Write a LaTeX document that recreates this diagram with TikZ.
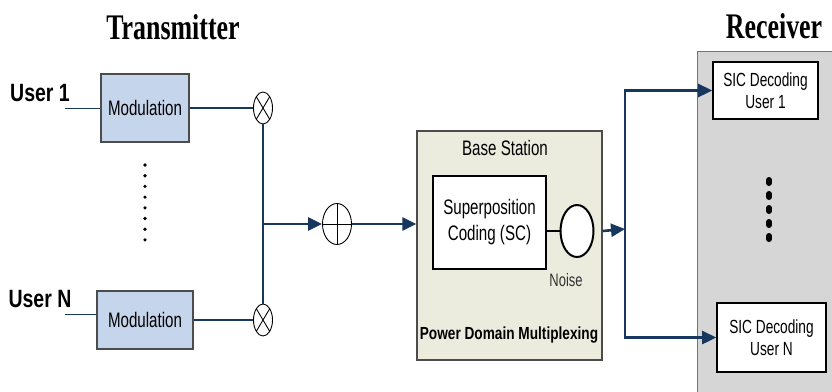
\documentclass[tikz,border=0pt]{standalone}
\usepackage{fontspec}
\setmainfont{Liberation Serif}
\setsansfont{Liberation Sans}
\newfontfamily\narrowsans[FakeStretch=0.72]{Liberation Sans}
\newfontfamily\narrowbold[FakeStretch=0.78]{Liberation Sans}
\newfontfamily\titleserif[FakeStretch=0.72]{Liberation Serif}
\usetikzlibrary{arrows.meta,calc,shapes.geometric,positioning}
\definecolor{navy}{RGB}{23,55,94}
\definecolor{modfill}{RGB}{197,213,236}
\definecolor{bsfill}{RGB}{236,236,222}
\definecolor{rxfill}{RGB}{214,214,214}

\begin{document}
\begin{tikzpicture}[x=1pt,y=-1pt,>={Triangle[length=14pt,width=13pt]},
  title/.style={font=\titleserif\bfseries\fontsize{36}{40}\selectfont},
  userlabel/.style={font=\narrowbold\bfseries\fontsize{25}{28}\selectfont},
  modbox/.style={draw=black!70,fill=modfill,line width=1.2pt,inner sep=0pt,font=\narrowsans\fontsize{21}{24}\selectfont},
  sicbox/.style={draw=black,fill=white,line width=1.6pt,inner sep=0pt,align=center,font=\narrowsans\fontsize{19}{21.5}\selectfont},
  bus/.style={draw=navy,line width=2.6pt},
  inline/.style={draw=navy,line width=1pt},
  mixer/.style={ellipse,draw,fill=white,line width=0.9pt,inner sep=0pt,minimum width=19pt,minimum height=32pt,
    path picture={\draw[line width=0.9pt] (path picture bounding box.north west) -- (path picture bounding box.south east)
      (path picture bounding box.north east) -- (path picture bounding box.south west);}},
  adder/.style={ellipse,draw,fill=white,line width=0.9pt,inner sep=0pt,minimum width=29pt,minimum height=41pt,
    path picture={\draw[line width=0.9pt] (path picture bounding box.north) -- (path picture bounding box.south)
      (path picture bounding box.west) -- (path picture bounding box.east);}}]
\useasboundingbox (0,0) rectangle (832,391);
% receiver panel
\draw[fill=rxfill,draw=black!55,line width=1pt] (697,51) rectangle (850,410);
% titles
\node[title] (txtitle) at (173,27) {Transmitter};
\node[title] (rxtitle) at (774,26) {Receiver};
% users and modulation
\node[userlabel] (user1) at (40,93) {User 1};
\node[userlabel] (userN) at (40,299) {User N};
\node[modbox,minimum width=88pt,minimum height=68pt] (mod1) at (145,108) {Modulation};
\node[modbox,minimum width=96pt,minimum height=58pt] (mod2) at (145,320) {Modulation};
\coordinate (in1) at (65,108);
\coordinate (inN) at (65,314);
\draw[inline] (in1) -- (in1 -| mod1.west);
\draw[inline] (inN) -- (inN -| mod2.west);
\foreach \k in {0,...,7}{\fill (145,{165+10.7*\k}) circle (1.8pt);}
% mixers and adder
\node[mixer] (mul1) at (263,108) {};
\node[mixer] (mul2) at (263,320) {};
\node[adder] (add) at (337,224) {};
\draw[bus] (mod1.east) -- (mul1.west);
\draw[bus] (mod2.east) -- (mul2.west);
\draw[bus] (mul1.south) -- (mul2.north);
\coordinate (junc) at (263,224);
\draw[bus,->] (junc) -- (add.west);
% base station
\node[draw=black!70,fill=bsfill,line width=1.2pt,minimum width=185pt,minimum height=229pt] (bs) at (509.5,245.5) {};
\node[font=\narrowsans\fontsize{21}{24}\selectfont] (bslabel) at (505,148) {Base Station};
\node[draw=black,fill=white,line width=2pt,minimum width=113pt,minimum height=93pt,align=center,
  font=\narrowsans\fontsize{21}{26}\selectfont] (sc) at (489.5,222.5) {Superposition\\Coding (SC)};
\node[ellipse,draw=black,fill=white,line width=2pt,minimum width=33pt,minimum height=52pt,inner sep=0pt] (noise) at (577,231) {};
\draw[line width=1.2pt] (sc.east |- noise.west) -- (noise.west);
\node[font=\narrowsans\fontsize{18}{20}\selectfont,text=black!80] (noiselabel) at (566,280) {Noise};
\node[font=\narrowbold\bfseries\fontsize{17.5}{20}\selectfont] (pdm) at (509,335) {Power Domain Multiplexing};
\draw[bus,->] (add.east) -- (add.east -| bs.west);
% receiver
\node[sicbox,minimum width=105pt,minimum height=57pt] (sic1) at (765.5,90.5) {SIC Decoding\\User 1};
\node[sicbox,minimum width=109pt,minimum height=69pt] (sicN) at (771.5,337.5) {SIC Decoding\\User N};
\coordinate (split) at (625,229);
\draw[bus,->] (bs.east |- noise.east) -- (split);
\draw[bus,->] (split) |- (sic1.west);
\draw[bus,->] (split) |- (sicN.west);
\foreach \k in {0,...,4}{\draw[line width=6pt,line cap=round] (769,{180+14*\k}) -- ++(0,3);}
\end{tikzpicture}
\end{document}
